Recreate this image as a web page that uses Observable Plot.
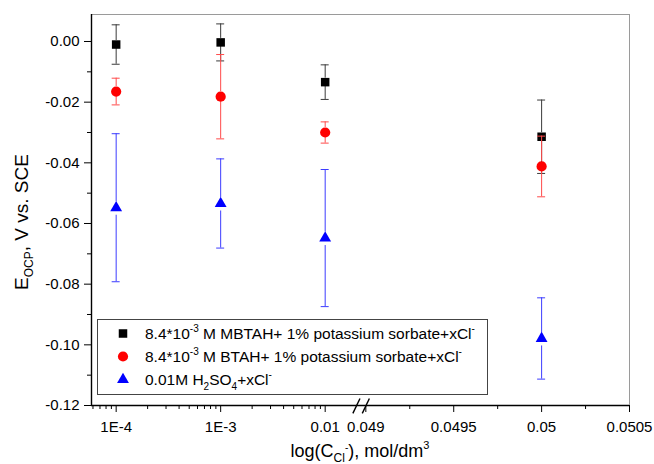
<!DOCTYPE html>
<html><head><meta charset="utf-8">
<script src="https://cdn.jsdelivr.net/npm/d3@7"></script>
<script src="https://cdn.jsdelivr.net/npm/@observablehq/plot@0.6"></script>
<style>
body{margin:0;background:#fff}
svg{font-family:"Liberation Sans",Arial,sans-serif}
</style>
</head><body><div id="chart"></div>
<script>
// ---- data ----
const concentrations = [1e-4, 1e-3, 0.01, 0.05];
const mbtahValues = [-0.0010, -0.0003, -0.0134, -0.0314];
const mbtahErrors = [0.0065, 0.0061, 0.0057, 0.0121];
const btahValues  = [-0.0165, -0.0182, -0.0300, -0.0412];
const btahErrors  = [0.0044, 0.0139, 0.0035, 0.0100];
const h2so4Values = [-0.0548, -0.0534, -0.0648, -0.0979];
const h2so4Errors = [0.0244, 0.0147, 0.0226, 0.0134];
const xTickValues = [1e-4, 1e-3, 0.01, 0.049, 0.0495, 0.05, 0.0505];
const xTickLabels = ["1E-4", "1E-3", "0.01", "0.049", "0.0495", "0.05", "0.0505"];
const xMinorLinear = [0.04925, 0.04975, 0.05025];
const yTickValues = [0, -0.02, -0.04, -0.06, -0.08, -0.10, -0.12];
const yMinorValues = [-0.01, -0.03, -0.05, -0.07, -0.09, -0.11];

// ---- broken x axis: log part up to 0.01, linear part from 0.049 ----
const GAP = 0.389, LIN_STEP = 0.0005, LIN_DEC = 0.841;
function pos(c) { return c <= 0.02 ? Math.log10(c) : -2 + GAP + (c - 0.049) / LIN_STEP * LIN_DEC; }
const xMin = -4.236, xMax = pos(0.0505);
const xMinorLog = [];
for (let k = -5; k <= -3; k++) for (let m = 2; m <= 9; m++) {
  const c = m * Math.pow(10, k);
  if (Math.log10(c) > xMin && c < 0.01) xMinorLog.push(c);
}
const labelByPos = new Map(xTickValues.map((v, i) => [pos(v), xTickLabels[i]]));
const breakMarks = [pos(0.049) - 0.09, pos(0.049)];

const series = [
  {key: "MBTAH", values: mbtahValues, errors: mbtahErrors, fill: "#000000", bar: "#3a3a3a", symbol: "square", r: 4.8, gapUp: 4, gapDown: 4},
  {key: "BTAH", values: btahValues, errors: btahErrors, fill: "#ff0000", bar: "#ff4a4a", symbol: "circle", r: 5.1, gapUp: 5, gapDown: 5},
  {key: "H2SO4", values: h2so4Values, errors: h2so4Errors, fill: "#0000ff", bar: "#3c3cff", symbol: "triangle", r: 4.4, gapUp: 6, gapDown: 7.5}
];

const seriesMarks = series.flatMap(s => {
  const rows = concentrations.map((c, i) => ({x: pos(c), v: s.values[i], e: s.errors[i]}));
  return [
    Plot.ruleX(rows, {x: "x", y1: d => d.v + d.e, y2: "v", insetBottom: s.gapUp, stroke: s.bar, strokeWidth: 1}),
    Plot.ruleX(rows, {x: "x", y1: "v", y2: d => d.v - d.e, insetTop: s.gapDown, stroke: s.bar, strokeWidth: 1}),
    Plot.ruleY(rows, {x1: "x", x2: "x", y: d => d.v + d.e, insetLeft: -4, insetRight: -4, stroke: s.bar, strokeWidth: 1}),
    Plot.ruleY(rows, {x1: "x", x2: "x", y: d => d.v - d.e, insetLeft: -4, insetRight: -4, stroke: s.bar, strokeWidth: 1}),
    Plot.dot(rows, {x: "x", y: "v", symbol: s.symbol, r: s.r, fill: s.fill, stroke: "none"})
  ];
});

const chart = Plot.plot({
  width: 654, height: 464,
  marginLeft: 91, marginRight: 25, marginTop: 14, marginBottom: 59,
  style: {fontFamily: '"Liberation Sans", Arial, sans-serif', background: "#fff", overflow: "visible"},
  x: {domain: [xMin, xMax], axis: null},
  y: {domain: [-0.12, 0.0089], axis: null},
  marks: [
    Plot.frame({stroke: "#9a9a9a", strokeWidth: 1}),
    Plot.axisX(xTickValues.map(pos), {tickSize: 7, tickPadding: 9, fontSize: 15, tickFormat: d => labelByPos.get(d), stroke: "#000", color: "#000", label: null}),
    Plot.axisX(xMinorLog.map(pos).concat(xMinorLinear.map(pos)), {tickSize: 4, tickFormat: () => "", stroke: "#000", label: null}),
    Plot.axisY(yTickValues, {tickSize: 7, tickPadding: 5, fontSize: 15, tickFormat: d => d.toFixed(2), stroke: "#000", color: "#000", label: null}),
    Plot.axisY(yMinorValues, {tickSize: 4, tickFormat: () => "", stroke: "#000", label: null}),
    Plot.ruleX([xMin], {stroke: "#000", strokeWidth: 1.4}),
    Plot.ruleY([-0.12], {stroke: "#000", strokeWidth: 1.4}),
    // axis break marks
    Plot.link(breakMarks, {x1: d => d - 0.034, x2: d => d + 0.034, y1: -0.1226, y2: -0.1177, stroke: "#000", strokeWidth: 1.4, clip: false}),
    ...seriesMarks
  ]
});
document.getElementById("chart").appendChild(chart);

// ---- rich text: axis titles and legend ----
const svg = d3.select(chart);
const xl = svg.append("text").attr("x", 360).attr("y", 457).attr("text-anchor", "middle").attr("font-size", 18).attr("fill", "#000");
xl.append("tspan").text("log(C");
xl.append("tspan").attr("font-size", 12).attr("dy", 5).text("Cl");
xl.append("tspan").attr("font-size", 10).attr("dy", -11).text("-");
xl.append("tspan").attr("dy", 6).text("), mol/dm");
xl.append("tspan").attr("font-size", 11).attr("dy", -8).text("3");

const yl = svg.append("text").attr("transform", "translate(28,222) rotate(-90)").attr("text-anchor", "middle").attr("font-size", 19).attr("fill", "#000");
yl.append("tspan").text("E");
yl.append("tspan").attr("font-size", 12).attr("dy", 5).text("OCP");
yl.append("tspan").attr("dy", -5).text(", V vs. SCE");

const lg = svg.append("g");
lg.append("rect").attr("x", 97.5).attr("y", 319.5).attr("width", 390).attr("height", 75).attr("fill", "#fff").attr("stroke", "#444").attr("stroke-width", 1);
const legendRows = [
  {sym: d3.symbolSquare, r: 4.8, fill: "#000", parts: [["8.4*10", 0, 15.5], ["-3", -7, 10], [" M MBTAH+ 1% potassium sorbate+xCl", 7, 15.5], ["-", -7, 10]]},
  {sym: d3.symbolCircle, r: 5.1, fill: "#f00", parts: [["8.4*10", 0, 15.5], ["-3", -7, 10], [" M BTAH+ 1% potassium sorbate+xCl", 7, 15.5], ["-", -7, 10]]},
  {sym: d3.symbolTriangle, r: 4.4, fill: "#00f", parts: [["0.01M H", 0, 15.5], ["2", 5, 10], ["SO", -5, 15.5], ["4", 5, 10], ["+xCl", -5, 15.5], ["-", -7, 10]]}
];
const rowY = [333.5, 356.5, 379.5];
legendRows.forEach((row, i) => {
  lg.append("path").attr("transform", `translate(123,${rowY[i]})`).attr("d", d3.symbol(row.sym, Math.PI * row.r * row.r)()).attr("fill", row.fill);
  const t = lg.append("text").attr("x", 145).attr("y", rowY[i] + 5.5).attr("text-anchor", "start").attr("fill", "#000");
  row.parts.forEach(([s, dy, fs]) => t.append("tspan").attr("dy", dy).attr("font-size", fs).text(s));
});
</script>
</body></html>
